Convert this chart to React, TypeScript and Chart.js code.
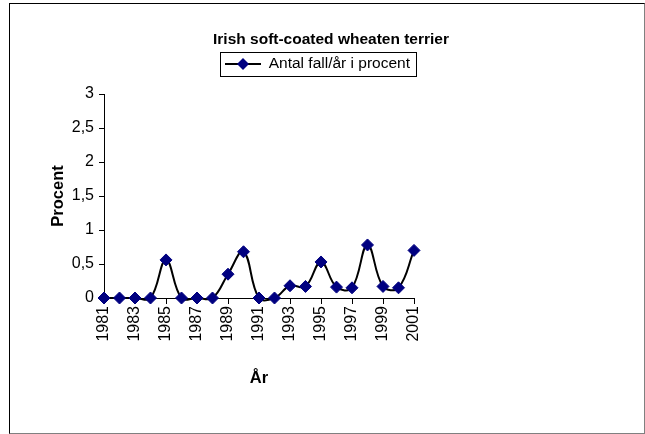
import React, { useEffect, useRef } from "react";
import { Chart, registerables } from "chart.js";

Chart.register(...registerables);

const TITLE = "Irish soft-coated wheaten terrier";
const SERIES_LABEL = "Antal fall/år i procent";
const X_TITLE = "År";
const Y_TITLE = "Procent";
const YEARS = [
  "1981", "1982", "1983", "1984", "1985", "1986", "1987", "1988", "1989", "1990",
  "1991", "1992", "1993", "1994", "1995", "1996", "1997", "1998", "1999", "2000", "2001",
];
const VALUES = [
  0, 0, 0, 0, 0.56, 0, 0, 0, 0.35, 0.68,
  0, 0, 0.18, 0.17, 0.53, 0.16, 0.15, 0.78, 0.17, 0.15, 0.7,
];
const Y_MIN = 0;
const Y_MAX = 3;
const Y_STEP = 0.5;

const NAVY = "#000080";
const FONT = "'Liberation Sans', Arial, sans-serif";

function makeLegendImage(): HTMLCanvasElement {
  const c = document.createElement("canvas");
  c.width = 44;
  c.height = 14;
  const ctx = c.getContext("2d")!;
  ctx.strokeStyle = "#000";
  ctx.lineWidth = 2;
  ctx.beginPath();
  ctx.moveTo(8, 7);
  ctx.lineTo(44, 7);
  ctx.stroke();
  ctx.fillStyle = NAVY;
  ctx.beginPath();
  ctx.moveTo(26 - 6, 7);
  ctx.lineTo(26, 1);
  ctx.lineTo(26 + 6, 7);
  ctx.lineTo(26, 13);
  ctx.closePath();
  ctx.fill();
  return c;
}

const legendBorder = {
  id: "legendBorder",
  afterDraw(chart: any) {
    const lg = chart.legend;
    if (!lg || !lg.legendHitBoxes || !lg.legendHitBoxes.length) return;
    const hb = lg.legendHitBoxes[0];
    const cy = hb.top + hb.height / 2;
    const l = Math.round(hb.left + 3) + 0.5;
    const r = Math.round(hb.left + hb.width + 6) + 0.5;
    const t = Math.round(cy - 12) + 0.5;
    const b = Math.round(cy + 12) + 0.5;
    const ctx = chart.ctx;
    ctx.save();
    ctx.strokeStyle = "#000";
    ctx.lineWidth = 1;
    ctx.strokeRect(l, t, r - l, b - t);
    ctx.restore();
  },
};

export default function App() {
  const ref = useRef<HTMLCanvasElement>(null);

  useEffect(() => {
    if (!ref.current) return;
    Chart.defaults.font.family = FONT;
    Chart.defaults.color = "#000";
    const legendImg = makeLegendImage();

    const chart = new Chart(ref.current, {
      type: "line",
      data: {
        labels: YEARS,
        datasets: [
          {
            label: SERIES_LABEL,
            data: VALUES,
            borderColor: "#000",
            borderWidth: 2,
            tension: 0.4,
            fill: false,
            pointStyle: "rectRot",
            pointRadius: 6,
            pointBorderWidth: 1,
            pointBackgroundColor: NAVY,
            pointBorderColor: NAVY,
            clip: false as any,
          },
        ],
      },
      options: {
        responsive: false,
        animation: false,
        events: [],
        elements: { line: { capBezierPoints: false } },
        layout: { padding: { left: 20, right: 3, top: 0, bottom: 0 } },
        plugins: {
          title: {
            display: true,
            text: TITLE,
            color: "#000",
            font: { size: 15.5, weight: "bold", family: FONT, lineHeight: 1.2 },
            padding: { top: 30.7, bottom: 2.95 },
          },
          legend: {
            display: true,
            position: "top",
            align: "end",
            fullSize: false,
            labels: {
              usePointStyle: true,
              pointStyleWidth: 44,
              padding: 4,
              color: "#000",
              font: { size: 15.5, family: FONT },
              generateLabels: () => [
                {
                  text: SERIES_LABEL,
                  pointStyle: legendImg as any,
                  datasetIndex: 0,
                  hidden: false,
                  fillStyle: NAVY,
                  strokeStyle: "#000",
                  lineWidth: 0,
                  fontColor: "#000",
                } as any,
              ],
            },
          },
          tooltip: { enabled: false },
        },
        scales: {
          x: {
            type: "category",
            offset: false,
            grid: {
              display: true,
              drawOnChartArea: false,
              drawTicks: true,
              tickLength: 6,
              color: "#000",
            },
            border: { display: true, color: "#000", width: 1 },
            ticks: {
              autoSkip: false,
              maxRotation: 90,
              minRotation: 90,
              padding: 2,
              color: "#000",
              font: { size: 16, family: FONT },
              callback: (_v: any, i: number) => (i % 2 === 0 ? YEARS[i] : null),
            },
            title: {
              display: true,
              text: X_TITLE,
              color: "#000",
              font: { size: 16.5, weight: "bold", family: FONT, lineHeight: 1.2 },
              padding: { top: 0, bottom: 46.1 },
            },
            afterFit: (s: any) => {
              s.height = 136;
            },
          },
          x2: {
            type: "category",
            position: "top",
            display: true,
            grid: { display: false, drawTicks: false },
            border: { display: false },
            ticks: { display: false },
            afterFit: (s: any) => {
              s.height = 12.25;
            },
          },
          y: {
            type: "linear",
            min: Y_MIN,
            max: Y_MAX,
            position: "left",
            grid: {
              display: true,
              drawOnChartArea: false,
              drawTicks: true,
              tickLength: 5,
              color: "#000",
            },
            border: { display: true, color: "#000", width: 1 },
            ticks: {
              stepSize: Y_STEP,
              padding: 5,
              color: "#000",
              font: { size: 16, family: FONT },
              callback: (v: any) => String(v).replace(".", ","),
            },
            title: {
              display: true,
              text: Y_TITLE,
              color: "#000",
              font: { size: 16.5, weight: "bold", family: FONT, lineHeight: 1.2 },
              padding: { top: 28.1, bottom: 0 },
            },
            afterFit: (s: any) => {
              s.width = 84;
            },
          },
          y2: {
            type: "linear",
            position: "right",
            display: true,
            grid: { display: false, drawTicks: false },
            border: { display: false },
            ticks: { display: false },
            afterFit: (s: any) => {
              s.width = 228;
            },
          },
        },
      } as any,
      plugins: [legendBorder],
    });
    return () => chart.destroy();
  }, []);

  return (
    <div style={{ position: "absolute", left: 0, top: 0, width: 645, height: 434 }}>
      <canvas ref={ref} width={645} height={434} style={{ display: "block" }} />
      <div
        style={{
          position: "absolute",
          left: 9,
          top: 3,
          width: 634,
          height: 429,
          borderStyle: "solid",
          borderWidth: 1,
          borderColor: "#000 #808080 #808080 #000",
          pointerEvents: "none",
        }}
      />
    </div>
  );
}
